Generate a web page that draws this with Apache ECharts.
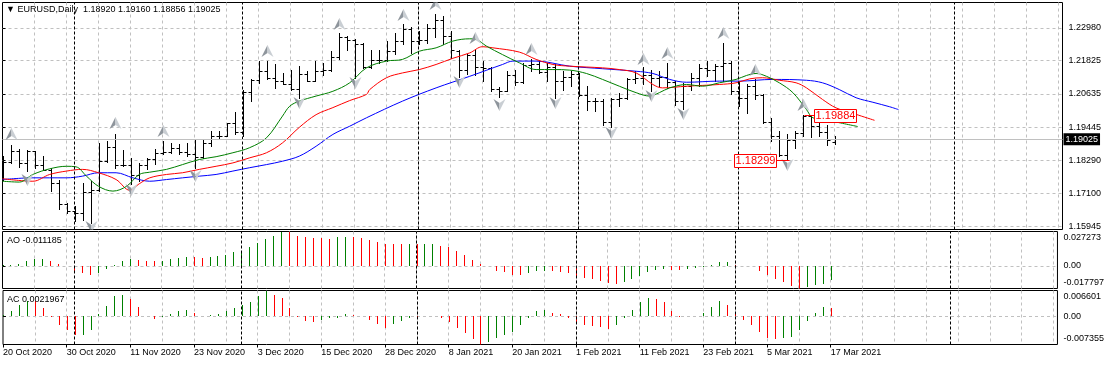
<!DOCTYPE html>
<html>
<head>
<meta charset="utf-8">
<title>EURUSD Daily</title>
<script src="https://cdn.jsdelivr.net/npm/echarts@6.0.0/dist/echarts.min.js"></script>
<style>
html,body{margin:0;padding:0;background:#ffffff;}
#chart{width:1107px;height:366px;}
</style>
</head>
<body>
<div id="chart"></div>
<script>
// ---------------- data ----------------
const SYMBOL = 'EURUSD,Daily';
const DATE_LABELS = ['20 Oct 2020','30 Oct 2020','11 Nov 2020','23 Nov 2020','3 Dec 2020','15 Dec 2020',
  '28 Dec 2020','8 Jan 2021','20 Jan 2021','1 Feb 2021','11 Feb 2021','23 Feb 2021','5 Mar 2021','17 Mar 2021'];
const OPEN = [1.1770,1.1822,1.1862,1.1817,1.1860,1.1812,1.1795,1.1747,1.1674,1.1647,
1.1642,1.1715,1.1722,1.1825,1.1875,1.1813,1.1812,1.1777,1.1810,1.1832,
1.1853,1.1857,1.1872,1.1857,1.1850,1.1840,1.1888,1.1915,1.1914,1.1962,
1.1927,1.2071,1.2113,1.2145,1.2121,1.2108,1.2100,1.2080,1.2135,1.2110,
1.2145,1.2150,1.2196,1.2265,1.2254,1.2240,1.2160,1.2185,1.2185,1.2215,
1.2250,1.2295,1.2250,1.2255,1.2296,1.2325,1.2270,1.2215,1.2150,1.2200,
1.2158,1.2155,1.2080,1.2075,1.2130,1.2105,1.2165,1.2170,1.2140,1.2160,
1.2110,1.2125,1.2135,1.2060,1.2040,1.2037,1.1965,1.2045,1.2050,1.2118,
1.2120,1.2130,1.2120,1.2125,1.2105,1.2040,1.2090,1.2120,1.2155,1.2150,
1.2163,1.2175,1.2075,1.2050,1.2090,1.2060,1.1965,1.1915,1.1847,1.1900,
1.1925,1.1985,1.1950,1.1930,1.1892];
const HIGH = [1.1843,1.1881,1.1868,1.1863,1.1860,1.1843,1.1802,1.1760,1.1678,1.1665,
1.1748,1.1754,1.1890,1.1896,1.1923,1.1866,1.1837,1.1820,1.1837,1.1867,
1.1896,1.1890,1.1885,1.1890,1.1903,1.1903,1.1931,1.1933,1.1961,1.2000,
1.2076,1.2115,1.2180,1.2182,1.2168,1.2138,1.2150,1.2162,1.2144,1.2180,
1.2174,1.2215,1.2278,1.2268,1.2257,1.2245,1.2221,1.2221,1.2251,1.2278,
1.2310,1.2300,1.2286,1.2310,1.2348,1.2340,1.2286,1.2221,1.2205,1.2224,
1.2180,1.2160,1.2088,1.2144,1.2150,1.2174,1.2186,1.2180,1.2174,1.2168,
1.2144,1.2144,1.2138,1.2091,1.2050,1.2044,1.2050,1.2067,1.2121,1.2144,
1.2160,1.2150,1.2144,1.2174,1.2109,1.2103,1.2138,1.2168,1.2180,1.2168,
1.2245,1.2180,1.2110,1.2097,1.2115,1.2062,1.1979,1.1931,1.1920,1.1931,
1.19884,1.1985,1.1968,1.1955,1.1916];
const LOW = [1.1760,1.1818,1.1806,1.1790,1.1802,1.1797,1.1719,1.1654,1.1642,1.1612,
1.1615,1.1606,1.1719,1.1821,1.1802,1.1807,1.1745,1.1755,1.1796,1.1815,
1.1849,1.1855,1.1850,1.1845,1.1800,1.1835,1.1880,1.1908,1.1914,1.1923,
1.1914,1.2038,1.2103,1.2115,1.2085,1.2097,1.2079,1.2050,1.2109,1.2109,
1.2132,1.2144,1.2188,1.2221,1.2120,1.2156,1.2155,1.2174,1.2180,1.2205,
1.2239,1.2209,1.2239,1.2245,1.2266,1.2239,1.2192,1.2125,1.2134,1.2132,
1.2109,1.2073,1.2052,1.2073,1.2095,1.2103,1.2144,1.2138,1.2109,1.2050,
1.2079,1.2091,1.2055,1.2008,1.2002,1.1955,1.1945,1.2020,1.2044,1.2103,
1.2097,1.2073,1.2091,1.2085,1.2026,1.2010,1.2079,1.2091,1.2126,1.2109,
1.2109,1.2062,1.2020,1.1997,1.2044,1.1961,1.1896,1.1845,1.18299,1.1873,
1.1914,1.1912,1.1914,1.1884,1.18856];
const CLOSE = [1.1822,1.1862,1.1817,1.1860,1.1812,1.1795,1.1747,1.1674,1.1647,1.1642,
1.1715,1.1722,1.1825,1.1875,1.1813,1.1812,1.1777,1.1810,1.1832,1.1853,
1.1857,1.1872,1.1857,1.1850,1.1840,1.1888,1.1915,1.1914,1.1962,1.1927,
1.2071,1.2113,1.2145,1.2121,1.2108,1.2100,1.2080,1.2135,1.2110,1.2145,
1.2150,1.2196,1.2265,1.2254,1.2240,1.2160,1.2185,1.2185,1.2215,1.2250,
1.2295,1.2250,1.2255,1.2296,1.2325,1.2270,1.2220,1.2150,1.2200,1.2158,
1.2155,1.2080,1.2075,1.2130,1.2105,1.2165,1.2170,1.2140,1.2160,1.2110,
1.2125,1.2135,1.2060,1.2040,1.2037,1.1965,1.2045,1.2050,1.2118,1.2120,
1.2130,1.2120,1.2125,1.2105,1.2040,1.2090,1.2120,1.2155,1.2150,1.2163,
1.2175,1.2075,1.2050,1.2090,1.2060,1.1965,1.1915,1.1847,1.1900,1.1925,
1.1985,1.1950,1.1930,1.1900,1.19025];

// Alligator lines: [bar position, price]
const JAW = [[0,1.1760],[3.8,1.1766],[8,1.1766],[10,1.1772],[12,1.1784],[14.2,1.1784],[16.3,1.1766],[18.4,1.1754],
[20.5,1.1760],[22.5,1.1766],[24.6,1.1772],[26.7,1.1778],[28.8,1.1790],[30.9,1.1802],[33,1.1813],[35,1.1825],
[37.1,1.1843],[39.2,1.1878],[41.3,1.1920],[43.4,1.1949],[45.5,1.1979],[50,1.2038],[54.2,1.2085],[58.4,1.2126],
[62.5,1.2168],[63.8,1.2180],[66.7,1.2180],[70.9,1.2162],[75,1.2153],[79.2,1.2144],[81.3,1.2136],[83.4,1.2115],
[85.5,1.2105],[89.6,1.2109],[92.1,1.2109],[96.3,1.2115],[100.5,1.2112],[102.5,1.2103],[104.6,1.2079],[106.7,1.2050],
[108.8,1.2034],[110.9,1.2018],[112,1.2008]];
const TEETH = [[0,1.1763],[3.8,1.1754],[5.9,1.1778],[8,1.1790],[10,1.1796],[12,1.1784],[14.2,1.1760],[15.9,1.1722],
[17.1,1.1745],[18.4,1.1766],[20.5,1.1778],[22.5,1.1784],[24.6,1.1796],[26.7,1.1807],[28.8,1.1819],[30.9,1.1837],
[33,1.1855],[35,1.1890],[37.1,1.1945],[39.2,1.1990],[41.3,1.2015],[43.4,1.2040],[45.5,1.2062],[45.9,1.2079],
[48,1.2121],[50,1.2138],[52.1,1.2150],[54.2,1.2168],[56.3,1.2190],[58.4,1.2209],[60,1.2231],[61.3,1.2227],
[64.6,1.2212],[66.7,1.2186],[68.8,1.2168],[70.9,1.2162],[75,1.2156],[77.1,1.2150],[79.2,1.2138],[81.3,1.2097],
[82.5,1.2085],[85.5,1.2091],[89.6,1.2097],[91.7,1.2103],[93.4,1.2117],[95,1.2121],[97.1,1.2112],[99.2,1.2103],
[100.5,1.2085],[102.5,1.2044],[104.2,1.2014],[106.7,1.1991],[109,1.1970]];
const LIPS = [[0,1.1754],[2.1,1.1751],[3.8,1.1778],[5.9,1.1798],[8,1.1807],[9.2,1.1805],[10.5,1.1772],[12,1.1736],
[13.8,1.1719],[15.5,1.1736],[17.1,1.1778],[18.4,1.1786],[20.5,1.1796],[22.5,1.1813],[24.6,1.1831],[26.7,1.1841],
[28.8,1.1855],[30.9,1.1873],[33,1.1908],[35,1.1985],[35.9,1.2020],[37.1,1.2038],[39.2,1.2056],[41.3,1.2073],
[43.4,1.2103],[45.5,1.2156],[48,1.2180],[50,1.2186],[52.1,1.2215],[54.2,1.2227],[56.3,1.2251],[58.4,1.2259],
[59.2,1.2257],[60.5,1.2233],[62.5,1.2203],[64.6,1.2174],[66.7,1.2150],[68.8,1.2150],[70.9,1.2148],[73,1.2136],
[75,1.2115],[77.1,1.2091],[79.2,1.2068],[80.9,1.2056],[82.1,1.2068],[83.4,1.2085],[85.5,1.2097],[87.5,1.2091],
[89.6,1.2103],[91.7,1.2115],[93,1.2129],[94.2,1.2136],[95.5,1.2126],[97.1,1.2103],[98.8,1.2068],[100.5,1.2008],
[101.3,1.1979],[103.8,1.1966],[106.9,1.1948]];

// Fractal arrows: [bar, price of arrow centre]
const FRACTAL_UP = [[1,1.1920],[14,1.1959],[20,1.1931],[33,1.2215],[42,1.2310],[50,1.2345],[54,1.2383],[59,1.2262],
[66,1.2224],[80,1.2186],[83,1.2209],[90,1.2280],[94,1.2150],[100,1.2026]];
const FRACTAL_DOWN = [[3,1.1760],[11,1.1590],[16,1.1723],[24,1.1774],[37,1.2032],[44,1.2103],[57,1.2105],[62,1.2026],
[69,1.2030],[76,1.1926],[81,1.2056],[85,1.1991],[98,1.1813]];
// price labels: [bar, price, side(0 = low, box on left; 1 = high, box on right)]
const PRICE_MARKS = [[98,1.18299,0],[100,1.19884,1]];

const PRICE_TICKS = [1.22980,1.21825,1.20635,1.19445,1.18290,1.17100,1.15945];
const PRICE_MIN = 1.158282, PRICE_MAX = 1.238776;

const AO = [0.0006,0.0007,0.0014,0.0037,0.0053,0.0057,0.0042,0.0014,0.0002,-0.0042,
-0.0057,-0.0071,-0.0057,-0.0020,0.0008,0.0037,0.0056,0.0051,0.0042,0.0037,
0.0042,0.0054,0.0065,0.0072,0.0070,0.0062,0.0070,0.0079,0.0090,0.0107,
0.0121,0.0150,0.0184,0.0212,0.0240,0.027273,0.0270,0.0240,0.0226,0.0225,
0.0218,0.0217,0.0226,0.0227,0.0226,0.0221,0.0203,0.0189,0.0175,0.0174,
0.0173,0.0175,0.0174,0.0176,0.0177,0.0162,0.0147,0.0121,0.0085,0.0051,
0.0014,0.0003,-0.0037,-0.0051,-0.0071,-0.0072,-0.0057,-0.0042,-0.0038,-0.0040,
-0.0045,-0.0057,-0.0079,-0.0093,-0.0099,-0.0121,-0.0136,-0.0141,-0.0127,-0.0105,
-0.0079,-0.0051,-0.0028,-0.0020,-0.0028,-0.0034,-0.0025,-0.0014,-0.0006,0.0008,
0.0031,0.0033,0.0011,0.0003,-0.0003,-0.0037,-0.0071,-0.0099,-0.0127,-0.0155,
-0.017797,-0.0168,-0.0150,-0.0140,-0.011185];
const AC = [0.0002,0.0013,0.0029,0.0040,0.0039,0.0021,-0.0002,-0.0022,-0.0037,-0.0050,
-0.0048,-0.0037,0.0006,0.0025,0.0052,0.0055,0.0045,0.0023,0.0001,-0.0008,
-0.0002,0.0006,0.0012,0.0015,0.0009,-0.0001,0.0002,0.0006,0.0012,0.0021,
0.0029,0.0037,0.0051,0.006601,0.0054,0.0046,0.0021,-0.0002,-0.0014,-0.0016,
-0.0011,-0.0006,-0.0004,0.0006,0.0002,-0.0001,-0.0009,-0.0020,-0.0030,-0.0020,
-0.0013,-0.0004,-0.0005,0.0000,0.0001,-0.0005,-0.0016,-0.0030,-0.0045,-0.0060,
-0.007355,-0.0068,-0.0057,-0.0050,-0.0040,-0.0023,-0.0004,0.0012,0.0015,0.0009,
0.0005,-0.0006,-0.0016,-0.0023,-0.0025,-0.0028,-0.0034,-0.0023,-0.0004,0.0015,
0.0037,0.0046,0.0045,0.0036,0.0014,-0.0002,-0.0001,0.0001,0.0009,0.0023,
0.0039,0.0028,0.0009,-0.0011,-0.0023,-0.0040,-0.0058,-0.0060,-0.0058,-0.0054,
-0.0037,-0.0012,0.0008,0.0024,0.0021967];

const SEPARATORS = [9,30,52,72,92,119];

// ---------------- styling ----------------
const FONT = "'Liberation Sans', Arial, sans-serif";
const GRID_LEFT = 2.5, GRID_RIGHT = 44.5;
const X_MAX = (1107 - GRID_LEFT - GRID_RIGHT) / 8;
const GRID_COLOR = '#c0c0c0';
const UP_COLOR = '#008000', DOWN_COLOR = '#ff0000';
const last = CLOSE.length - 1;
const V_GRID = [];
for (let g = 4; g < X_MAX; g += 4) V_GRID.push(g);
const px = v => Math.floor(v + 0.5) + 0.5;

const chart = echarts.init(document.getElementById('chart'), null, {renderer: 'canvas'});

function ohlcItem(params, api) {
  const i = api.value(0);
  const pO = api.coord([i, api.value(1)]);
  const pH = api.coord([i, api.value(2)]);
  const pL = api.coord([i, api.value(3)]);
  const pC = api.coord([i, api.value(4)]);
  const x = px(pO[0]);
  const yO = Math.round(pO[1]) + 0.5, yC = Math.round(pC[1]) + 0.5;
  const st = {stroke: '#000', lineWidth: 1};
  return {type: 'group', children: [
    {type: 'line', shape: {x1: x, y1: Math.round(pH[1]), x2: x, y2: Math.round(pL[1]) + 1}, style: st},
    {type: 'line', shape: {x1: x - 3, y1: yO, x2: x, y2: yO}, style: st},
    {type: 'line', shape: {x1: x, y1: yC, x2: x + 3, y2: yC}, style: st}
  ]};
}
function histItem(params, api) {
  const i = api.value(0), v = api.value(1);
  const p0 = api.coord([i, 0]), p1 = api.coord([i, v]);
  const x = px(p0[0]);
  return {type: 'line', shape: {x1: x, y1: Math.round(p0[1]), x2: x, y2: Math.round(p1[1])},
    style: {stroke: api.value(2) ? UP_COLOR : DOWN_COLOR, lineWidth: 1}};
}
function arrowItem(up) {
  return function (params, api) {
    const p = api.coord([api.value(0), api.value(1)]);
    const cx = px(p[0]), cy = Math.round(p[1]);
    const s = up ? 1 : -1;
    const tip = [cx, cy - 6 * s], notch = [cx, cy + 2 * s], l = [cx - 6, cy + 6 * s], r = [cx + 6, cy + 6 * s];
    return {type: 'group', children: [
      {type: 'polygon', shape: {points: [tip, notch, l]}, style: {fill: '#8e959c'}},
      {type: 'polygon', shape: {points: [tip, r, notch]}, style: {fill: '#c9ced3'}}
    ]};
  };
}
function priceMarkItem(params, api) {
  const i = api.value(0), v = api.value(1), side = api.value(2);
  const p = api.coord([i, v]);
  const x = px(p[0]), yy = Math.round(p[1]);
  const bw = 42, bh = 13;
  let bx, lx1, lx2;
  if (side === 0) { bx = x - 11 - bw; lx1 = x - 11; lx2 = x + 2; }
  else { bx = x + 11; lx1 = x + 1; lx2 = x + 11; }
  return {type: 'group', children: [
    {type: 'line', shape: {x1: lx1, y1: yy + 0.5, x2: lx2, y2: yy + 0.5}, style: {stroke: '#ff0000', lineWidth: 1}},
    {type: 'rect', shape: {x: bx, y: yy - 5.5, width: bw, height: bh}, style: {fill: '#ffffff', stroke: '#ff0000', lineWidth: 1}},
    {type: 'text', style: {x: bx + bw / 2, y: yy + 1, text: v.toFixed(5), fill: '#ff0000',
      fontSize: 11, fontFamily: FONT, align: 'center', verticalAlign: 'middle'}}
  ]};
}
function histData(arr) {
  return arr.map((v, i) => [i, v, (i === 0 || v >= arr[i - 1]) ? 1 : 0]);
}
const sepLine = {
  silent: true, symbol: ['none', 'none'], animation: false,
  label: {show: false},
  lineStyle: {color: '#000', type: [3, 2], width: 1},
  data: SEPARATORS.map(v => ({xAxis: v}))
};
const labelStyle = {color: '#000', fontSize: 9, fontFamily: FONT};
function indAxis(gridIndex, arr, digits) {
  const mn = Math.min.apply(null, arr), mx = Math.max.apply(null, arr);
  const ticks = [mx, 0, mn];
  return {
    gridIndex, type: 'value', position: 'right', min: mn, max: mx,
    axisLine: {show: false},
    axisTick: {show: true, customValues: [0], length: 3, lineStyle: {color: '#000'}},
    axisLabel: Object.assign({
      customValues: ticks, margin: 6,
      formatter: v => v === 0 ? '0.00' : (v === mx ? '{t|' + v.toFixed(digits) + '}' : '{b|' + v.toFixed(digits) + '}'),
      rich: {
        t: Object.assign({padding: [13, 0, 0, 0]}, labelStyle),
        b: Object.assign({padding: [0, 0, 11, 0]}, labelStyle)
      }
    }, labelStyle),
    splitLine: {show: true, lineStyle: {color: GRID_COLOR, type: [3, 3], width: 1}}
  };
}
function xAxisBase(gridIndex) {
  return {
    gridIndex, type: 'value', min: 0, max: X_MAX, interval: 4,
    axisLine: {show: false}, axisTick: {show: false, customValues: V_GRID}, axisLabel: {show: false},
    splitLine: {show: true, lineStyle: {color: GRID_COLOR, type: [3, 3], width: 1}}
  };
}
const gridBase = {left: GRID_LEFT, right: GRID_RIGHT, show: true, borderColor: '#000', borderWidth: 1, backgroundColor: '#ffffff'};
const titleStyle = {color: '#000', fontSize: 9, fontWeight: 'normal', fontFamily: FONT};

const option = {
  animation: false,
  backgroundColor: '#ffffff',
  textStyle: {fontFamily: FONT},
  title: [
    {text: '\u25BC ' + SYMBOL + '  ' + [OPEN[last], HIGH[last], LOW[last], CLOSE[last]].map(v => v.toFixed(5)).join(' '),
      left: 6, top: 5, padding: 0, textStyle: titleStyle},
    {text: 'AO ' + AO[last].toFixed(6), left: 7, top: 236, padding: 0, textStyle: titleStyle},
    {text: 'AC ' + AC[last].toFixed(7), left: 7, top: 295, padding: 0, textStyle: titleStyle}
  ],
  grid: [
    Object.assign({top: 2.5, height: 227}, gridBase),
    Object.assign({top: 231.5, height: 57}, gridBase),
    Object.assign({top: 290.5, height: 54}, gridBase)
  ],
  xAxis: [
    xAxisBase(0), xAxisBase(1), xAxisBase(2),
    {gridIndex: 2, type: 'value', min: 0, max: X_MAX, position: 'bottom',
      axisLine: {show: false},
      axisTick: {show: true, customValues: DATE_LABELS.map((d, k) => k * 8), length: 3, lineStyle: {color: '#000'}},
      axisLabel: Object.assign({customValues: DATE_LABELS.map((d, k) => k * 8), align: 'left', margin: 4,
        formatter: v => DATE_LABELS[Math.round(v / 8)] || ''}, labelStyle),
      splitLine: {show: false}}
  ],
  yAxis: [
    {gridIndex: 0, type: 'value', position: 'right', min: PRICE_MIN, max: PRICE_MAX,
      axisLine: {show: false},
      axisTick: {show: true, customValues: PRICE_TICKS, length: 3, lineStyle: {color: '#000'}},
      axisLabel: Object.assign({customValues: PRICE_TICKS, margin: 6, formatter: v => v.toFixed(5)}, labelStyle),
      splitLine: {show: true, lineStyle: {color: GRID_COLOR, type: [3, 3], width: 1}}},
    indAxis(1, AO, 6),
    indAxis(2, AC, 6)
  ],
  series: [
    {type: 'custom', name: 'bars', xAxisIndex: 0, yAxisIndex: 0, clip: true, z: 3,
      renderItem: ohlcItem,
      encode: {x: 0, y: [1, 2, 3, 4]},
      data: CLOSE.map((c, i) => [i, OPEN[i], HIGH[i], LOW[i], CLOSE[i]]),
      markLine: {
        silent: true, symbol: ['none', 'none'], animation: false, precision: 5,
        data: SEPARATORS.map(v => ({xAxis: v, label: {show: false}, lineStyle: {color: '#000', type: [3, 2], width: 1}}))
          .concat([{yAxis: CLOSE[last], lineStyle: {color: '#c0c0c0', type: 'solid', width: 1},
            label: {show: true, position: 'end', distance: 1, formatter: () => CLOSE[last].toFixed(5),
              color: '#ffffff', backgroundColor: '#000000', padding: [2, 2, 1, 2], fontSize: 9, fontFamily: FONT}}])
      }},
    {type: 'line', name: 'Jaw', xAxisIndex: 0, yAxisIndex: 0, data: JAW, smooth: 0.35, symbol: 'none', z: 4,
      lineStyle: {color: '#0000ff', width: 1}},
    {type: 'line', name: 'Teeth', xAxisIndex: 0, yAxisIndex: 0, data: TEETH, smooth: 0.35, symbol: 'none', z: 4,
      lineStyle: {color: '#ff0000', width: 1}},
    {type: 'line', name: 'Lips', xAxisIndex: 0, yAxisIndex: 0, data: LIPS, smooth: 0.35, symbol: 'none', z: 4,
      lineStyle: {color: '#008000', width: 1}},
    {type: 'custom', name: 'FractalUp', xAxisIndex: 0, yAxisIndex: 0, clip: true, z: 5,
      renderItem: arrowItem(true), encode: {x: 0, y: 1}, data: FRACTAL_UP},
    {type: 'custom', name: 'FractalDown', xAxisIndex: 0, yAxisIndex: 0, clip: true, z: 5,
      renderItem: arrowItem(false), encode: {x: 0, y: 1}, data: FRACTAL_DOWN},
    {type: 'custom', name: 'PriceMarks', xAxisIndex: 0, yAxisIndex: 0, clip: false, z: 6,
      renderItem: priceMarkItem, encode: {x: 0, y: 1}, data: PRICE_MARKS},
    {type: 'custom', name: 'AO', xAxisIndex: 1, yAxisIndex: 1, clip: true, z: 3,
      renderItem: histItem, encode: {x: 0, y: 1}, data: histData(AO), markLine: sepLine},
    {type: 'custom', name: 'AC', xAxisIndex: 2, yAxisIndex: 2, clip: true, z: 3,
      renderItem: histItem, encode: {x: 0, y: 1}, data: histData(AC), markLine: sepLine}
  ]
};
chart.setOption(option);
</script>
</body>
</html>
